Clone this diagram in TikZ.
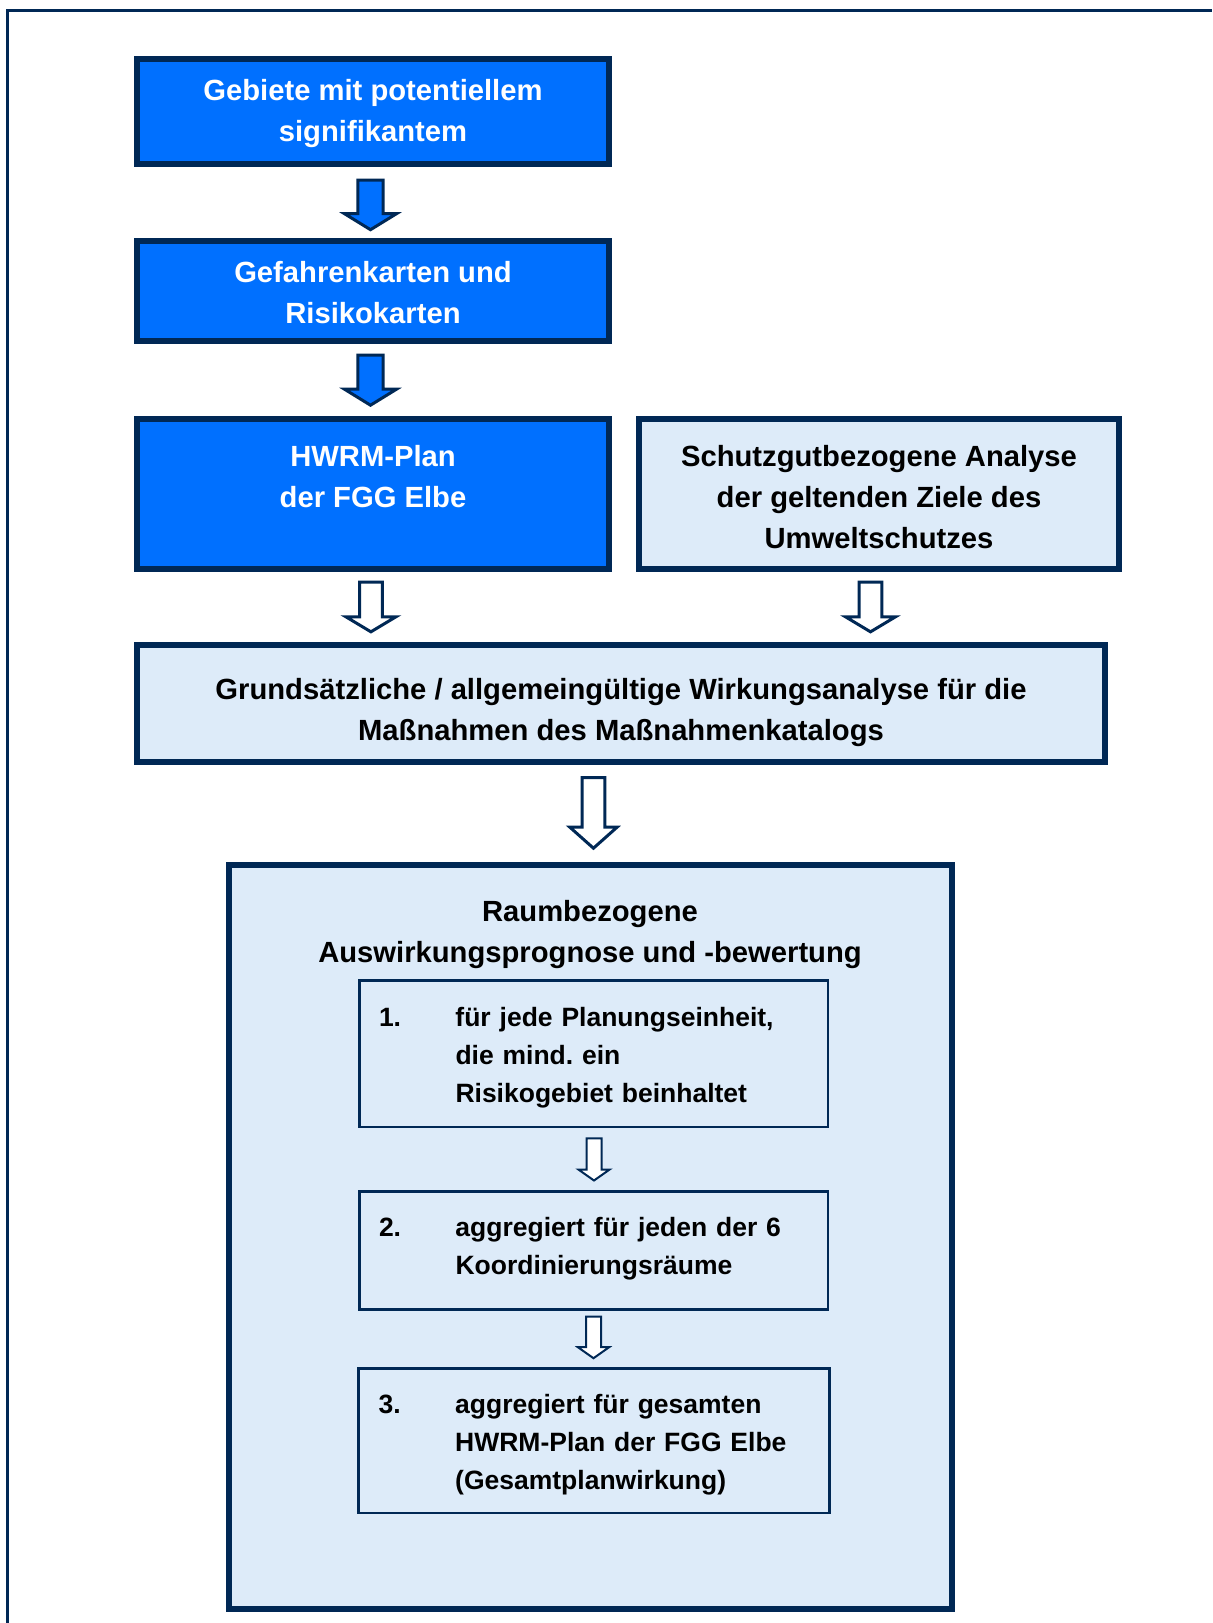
\documentclass[tikz,border=0pt]{standalone}
\usepackage{fontspec}
\setmainfont{Liberation Sans}
\usetikzlibrary{calc}
\definecolor{navy}{RGB}{0,40,85}
\definecolor{hblue}{RGB}{0,112,255}
\definecolor{lblue}{RGB}{221,235,249}
\newcommand\bigfont{\fontsize{14.6pt}{20.5pt}\selectfont\bfseries\frenchspacing}
\newcommand\smallfont{\fontsize{13.25pt}{19pt}\selectfont\bfseries\frenchspacing}
% #1 style, #2 start, #3 end, #4 half shaft, #5 half head, #6 head length
\newcommand\blockarrow[6]{%
  \draw[#1] let \p1=#2, \p2=#3 in
    ({\x1-#4},\y1) -- ({\x1+#4},\y1) -- ({\x1+#4},{\y2+#6}) -- ({\x1+#5},{\y2+#6})
    -- (\x1,\y2) -- ({\x1-#5},{\y2+#6}) -- ({\x1-#4},{\y2+#6}) -- cycle;}
\begin{document}
\begin{tikzpicture}[x=0.5pt,y=-0.5pt,
  bigbox/.style={draw=navy, line width=3pt, inner sep=0pt},
  darkbox/.style={bigbox, fill=hblue},
  lightbox/.style={bigbox, fill=lblue},
  boxtext/.style={font=\bigfont, align=center, inner sep=0pt},
  subbox/.style={draw=navy, line width=1.25pt, fill=lblue, inner sep=0pt, minimum width=234.25pt},
  subtext/.style={font=\smallfont, align=left, text width=214.5pt, inner sep=0pt},
  solidarrow/.style={draw=navy, line width=1.5pt, fill=hblue},
  hollowarrow/.style={draw=navy, line width=1.5pt, fill=white},
  thinarrow/.style={draw=navy, line width=1pt, fill=white}]
\useasboundingbox (0,0) rectangle (1212,1623);
\fill[white] (0,0) rectangle (1212,1623);
\draw[navy, line width=1.75pt] (7.7,1623) -- (7.7,10.5) -- (1212,10.5);

\node[darkbox, minimum width=236pt, minimum height=52.5pt] (b1) at (373,111.5) {};
\node[boxtext, text=white] (t1) at ($(b1.center)+(0,2)$) {Gebiete mit potentiellem\\signifikantem};
\node[darkbox, minimum width=236pt, minimum height=50.15pt] (b2) at (373,290.85) {};
\node[boxtext, text=white] (t2) at ($(b2.center)+(0,2)$) {Gefahrenkarten und\\Risikokarten};
\node[darkbox, minimum width=236pt, minimum height=75pt] (b3) at (373,493.7) {};
\node[lightbox, minimum width=240pt, minimum height=75pt] (b4) at (879,493.7) {};
\node[boxtext] (t4) at ($(b4.center)+(0,3)$) {Schutzgutbezogene Analyse\\der geltenden Ziele des\\Umweltschutzes};
\node[boxtext, text=white, anchor=north] (t3) at (t4.north -| b3.center) {HWRM-Plan\\der FGG Elbe};
\node[lightbox, minimum width=484pt, minimum height=58.35pt] (b5) at (621,703.65) {};
\node[boxtext] (t5) at ($(b5.center)+(0,9)$) {Grundsätzliche / allgemeingültige Wirkungsanalyse für die\\Maßnahmen des Maßnahmenkatalogs};
\node[lightbox, minimum width=361.45pt, minimum height=371.75pt] (b6) at (590.15,1236.95) {};
\node[boxtext] (title) at (590,934.5) {Raumbezogene\\Auswirkungsprognose und -bewertung};

\node[subbox, minimum height=73.35pt] (s1) at (593.5,1053.7) {};
\node[subtext] (u1) at ($(s1.center)+(0,3.5)$)
  {\makebox[38.25pt][l]{1.}für jede Planungseinheit,\\\hspace*{38.25pt}die mind. ein\\\hspace*{38.25pt}Risikogebiet beinhaltet};
\node[subbox, minimum height=59.1pt] (s2) at (593.5,1250.35) {};
\node[subtext] (u2) at ($(s2.center)+(0,-1.5)$)
  {\makebox[38.25pt][l]{2.}aggregiert für jeden der 6\\\hspace*{38.25pt}Koordinierungsräume};
\node[subbox, minimum height=72.15pt, minimum width=235.65pt] (s3) at (593.9,1440.6) {};
\node[subtext] (u3) at ($(s3.center)+(-0.7,4)$)
  {\makebox[38.25pt][l]{3.}aggregiert für gesamten\\\hspace*{38.25pt}HWRM-Plan der FGG Elbe\\\hspace*{38.25pt}(Gesamtplanwirkung)};

\blockarrow{solidarrow}{($(b1.south)+(-2.5,13)$)}{($(b2.north)+(-2.5,-8)$)}{6.3pt}{13pt}{8pt}
\blockarrow{solidarrow}{($(b2.south)+(-2.5,11)$)}{($(b3.north)+(-2.5,-10.5)$)}{6.3pt}{13pt}{8pt}
\blockarrow{hollowarrow}{($(b3.south)+(-2.1,10.5)$)}{($(b5.north -| b3.south)+(-2.1,-10.5)$)}{5.7pt}{12.5pt}{7.5pt}
\blockarrow{hollowarrow}{($(b4.south)+(-8.5,10.5)$)}{($(b5.north -| b4.south)+(-8.5,-10.5)$)}{5.7pt}{12.5pt}{7.5pt}
\blockarrow{hollowarrow}{($(b5.south -| b6.north)+(3.3,12.5)$)}{($(b6.north)+(3.3,-14)$)}{5.7pt}{11.8pt}{10.5pt}
\blockarrow{thinarrow}{($(s1.south)+(0.5,10)$)}{($(s2.north)+(0.5,-9.5)$)}{3.75pt}{7.8pt}{5.5pt}
\blockarrow{thinarrow}{($(s2.south)+(0,6)$)}{($(s3.north)+(0,-9)$)}{3.75pt}{7.8pt}{5.5pt}
\end{tikzpicture}
\end{document}
